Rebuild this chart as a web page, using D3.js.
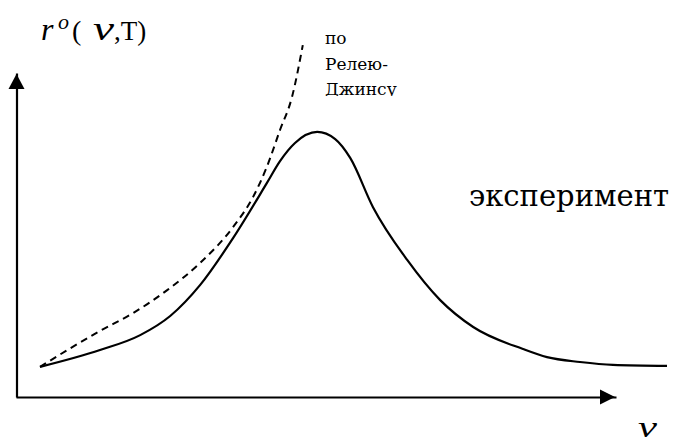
<!DOCTYPE html>
<html>
<head>
<meta charset="utf-8">
<script src="https://cdn.jsdelivr.net/npm/d3@7"></script>
<style>
  html, body { margin: 0; padding: 0; background: #fff; }
  svg { display: block; }
</style>
</head>
<body>
<svg id="chart" width="679" height="445"></svg>
<script>
// Frequency (arbitrary units) and measured spectral emissivity of a black body
const expNu = [0.40, 1.40, 2.07, 2.57, 3.07, 3.62, 4.18, 4.40, 4.65, 5.02, 5.32, 5.57, 5.95, 6.52, 7.07, 7.62, 8.45, 8.85, 9.40, 9.95, 10.85];
const expR  = [0.93, 1.45, 1.91, 2.50, 3.46, 4.91, 6.60, 7.28, 7.84, 8.18, 7.96, 7.38, 5.86, 4.23, 2.99, 2.16, 1.48, 1.23, 1.08, 0.99, 0.96];

// Rayleigh–Jeans prediction
const rjNu  = [0.40, 1.40, 1.95, 2.52, 3.07, 3.62, 3.95, 4.18, 4.40, 4.60, 4.78];
const rjR   = [0.93, 2.04, 2.59, 3.30, 4.14, 5.25, 6.17, 7.10, 8.24, 9.26, 10.86];

// Labels
const rjLabel  = ["по", "Релею-", "Джинсу"];
const expLabel = "эксперимент";

const SERIF = '"Liberation Serif", "Times New Roman", serif';
const CYR   = '"DejaVu Serif", "Liberation Serif", serif';

const svg = d3.select("#chart");

const x = d3.scaleLinear().domain([0, 10]).range([16, 616]);
const y = d3.scaleLinear().domain([0, 10]).range([397, 73]);

// Axes without ticks, ending in filled arrowheads
const xAxis = svg.append("g")
  .attr("transform", `translate(0,${y(0)})`)
  .call(d3.axisBottom(x).tickValues([]).tickSizeOuter(0));
xAxis.select(".domain").attr("stroke", "#000").attr("stroke-width", 2.2);

const yAxis = svg.append("g")
  .attr("transform", `translate(${x(0) + 0.5},0)`)
  .call(d3.axisLeft(y).tickValues([]).tickSizeOuter(0));
yAxis.select(".domain").attr("stroke", "#000").attr("stroke-width", 2.2);

const xEnd = x(10) - 1, y0 = y(0);
svg.append("path")
  .attr("d", `M${xEnd},${y0} L${xEnd - 15},${y0 - 7.5} L${xEnd - 15},${y0 + 7.5} Z`)
  .attr("fill", "#000");

const yx = x(0) + 0.5, yEnd = y(10) + 1;
svg.append("path")
  .attr("d", `M${yx},${yEnd} L${yx - 8},${yEnd + 15} L${yx + 8},${yEnd + 15} Z`)
  .attr("fill", "#000");

// Curves
const line = d3.line()
  .x(d => x(d[0]))
  .y(d => y(d[1]))
  .curve(d3.curveMonotoneX);

svg.append("path")
  .datum(rjNu.map((v, i) => [v, rjR[i]]))
  .attr("d", line)
  .attr("fill", "none")
  .attr("stroke", "#000")
  .attr("stroke-width", 2)
  .attr("stroke-dasharray", "7,5");

svg.append("path")
  .datum(expNu.map((v, i) => [v, expR[i]]))
  .attr("d", line)
  .attr("fill", "none")
  .attr("stroke", "#000")
  .attr("stroke-width", 2.2)
  .attr("stroke-linejoin", "round");

// Text helper
function label(px, py, size, str, italic, family) {
  return svg.append("text")
    .attr("x", px).attr("y", py)
    .attr("font-family", family || SERIF)
    .attr("font-size", size)
    .attr("font-style", italic ? "italic" : "normal")
    .attr("fill", "#000")
    .text(str);
}

// Y axis title: r°(ν,T)
label(41, 40, 32, "r", true);
label(58, 29, 22, "o", true);
label(72, 40, 28, "(", false);
label(93, 40, 34, "ν", true)
  .attr("textLength", 21).attr("lengthAdjust", "spacingAndGlyphs");
label(114, 40, 27, ",T)", false);

// X axis title
label(638, 437, 30, "ν", true)
  .attr("textLength", 19).attr("lengthAdjust", "spacingAndGlyphs");

// Rayleigh–Jeans label (text box clipped at the bottom)
svg.append("clipPath").attr("id", "rjclip")
  .append("rect").attr("x", 300).attr("y", 0).attr("width", 150).attr("height", 96);
svg.append("g").attr("clip-path", "url(#rjclip)")
  .selectAll("text").data(rjLabel).join("text")
  .attr("x", 325)
  .attr("y", (d, i) => 44 + i * 25.5)
  .attr("font-family", CYR)
  .attr("font-size", 17)
  .attr("fill", "#000")
  .text(d => d);

// Experiment label
label(469, 206, 29, expLabel, false, CYR);
</script>
</body>
</html>
